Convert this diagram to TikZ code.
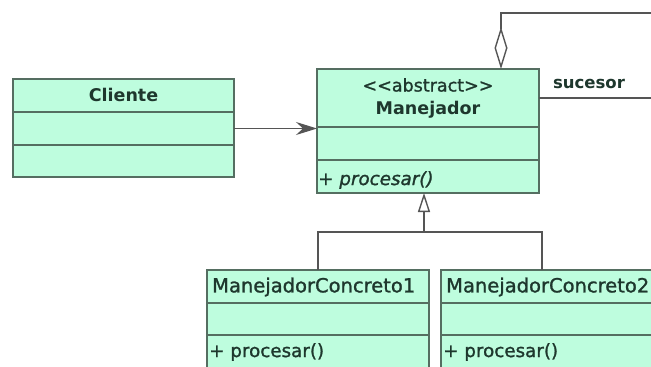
\documentclass[tikz,border=0pt]{standalone}
\usepackage{fontspec}
\setmainfont{DejaVu Sans}
\newfontfamily\heavyreg[FakeBold=1.2]{DejaVu Sans}
\usetikzlibrary{arrows.meta}
\definecolor{mint}{RGB}{190,253,222}
\definecolor{edgec}{RGB}{85,110,97}
\definecolor{ink}{RGB}{30,55,45}
\definecolor{wire}{RGB}{85,85,85}
\begin{document}
\begin{tikzpicture}[x=1pt,y=-1pt,
  comp/.style={draw=edgec, fill=mint, line width=1.4pt, rectangle, inner sep=0pt, outer sep=0pt, anchor=north west},
  bname/.style={text=ink, font=\bfseries\fontsize{17.5}{20}\selectfont, inner sep=0pt},
  rname/.style={text=ink, font=\heavyreg\fontsize{17.5}{20}\selectfont, inner sep=0pt},
  cname/.style={text=ink, font=\heavyreg\fontsize{19.5}{22}\selectfont, inner sep=0pt, anchor=west},
  optxt/.style={text=ink, font=\heavyreg\fontsize{18.3}{21}\selectfont, inner sep=0pt, anchor=west},
  wireline/.style={draw=wire, line width=1.4pt},
  assoc/.style={wireline, -{Stealth[length=21pt,width=13pt,inset=7pt]}},
  genl/.style={wireline, -{Triangle[open,length=19pt,width=12pt,fill=white]}},
  aggl/.style={wireline, {Diamond[open,length=42pt,width=13pt,fill=white]}-}]
\useasboundingbox (0,0) rectangle (651,367);
\clip (0,0) rectangle (651,367);
\fill[white] (0,0) rectangle (651,367);
% Cliente
\node[comp, minimum width=221pt, minimum height=33pt] (cliN) at (13,79) {};
\node[comp, minimum width=221pt, minimum height=33pt] (cliM) at (13,112) {};
\node[comp, minimum width=221pt, minimum height=32pt] (cliO) at (13,145) {};
\node[bname] (cliT) at (123.5,95) {Cliente};
% Manejador
\node[comp, minimum width=222pt, minimum height=58pt] (manH) at (317,69) {};
\node[comp, minimum width=222pt, minimum height=33pt] (manA) at (317,127) {};
\node[comp, minimum width=222pt, minimum height=33pt] (manO) at (317,160) {};
\node[rname] (manS) at (428,85) {<{}<abstract>{}>};
\node[bname] (manT) at (428,110) {Manejador};
\node[optxt] (manP) at (318,180) {+ \textit{procesar()}};
% ManejadorConcreto1
\node[comp, minimum width=222pt, minimum height=33pt] (c1N) at (207,270) {};
\node[comp, minimum width=222pt, minimum height=32pt] (c1A) at (207,303) {};
\node[comp, minimum width=222pt, minimum height=40pt] (c1O) at (207,335) {};
\node[cname] (c1T) at (212,287) {ManejadorConcreto1};
\node[optxt] (c1P) at (209,352) {+ procesar()};
% ManejadorConcreto2
\node[comp, minimum width=222pt, minimum height=33pt] (c2N) at (441,270) {};
\node[comp, minimum width=222pt, minimum height=32pt] (c2A) at (441,303) {};
\node[comp, minimum width=222pt, minimum height=40pt] (c2O) at (441,335) {};
\node[cname] (c2T) at (446,287) {ManejadorConcreto2};
\node[optxt] (c2P) at (443,352) {+ procesar()};
% association Cliente -> Manejador
\draw[assoc] (cliM.east) -- (cliM.east -| manA.west);
% generalization
\coordinate (gj) at (424,232);
\coordinate (c2top) at (542,270);
\draw[wireline] (c1N.north) |- (gj) -| (c2top);
\draw[genl] (gj) -- (gj |- manO.south);
% aggregation (sucesor)
\coordinate (aggTop) at (501,13);
\coordinate (aggR) at (700,13);
\draw[aggl] (manH.north -| aggTop) -- (aggTop) -- (aggR) |- (manH.east);
\node[text=ink, font=\bfseries\fontsize{16.5}{19}\selectfont, inner sep=0pt] (suc) at (589,84) {sucesor};
\end{tikzpicture}
\end{document}
